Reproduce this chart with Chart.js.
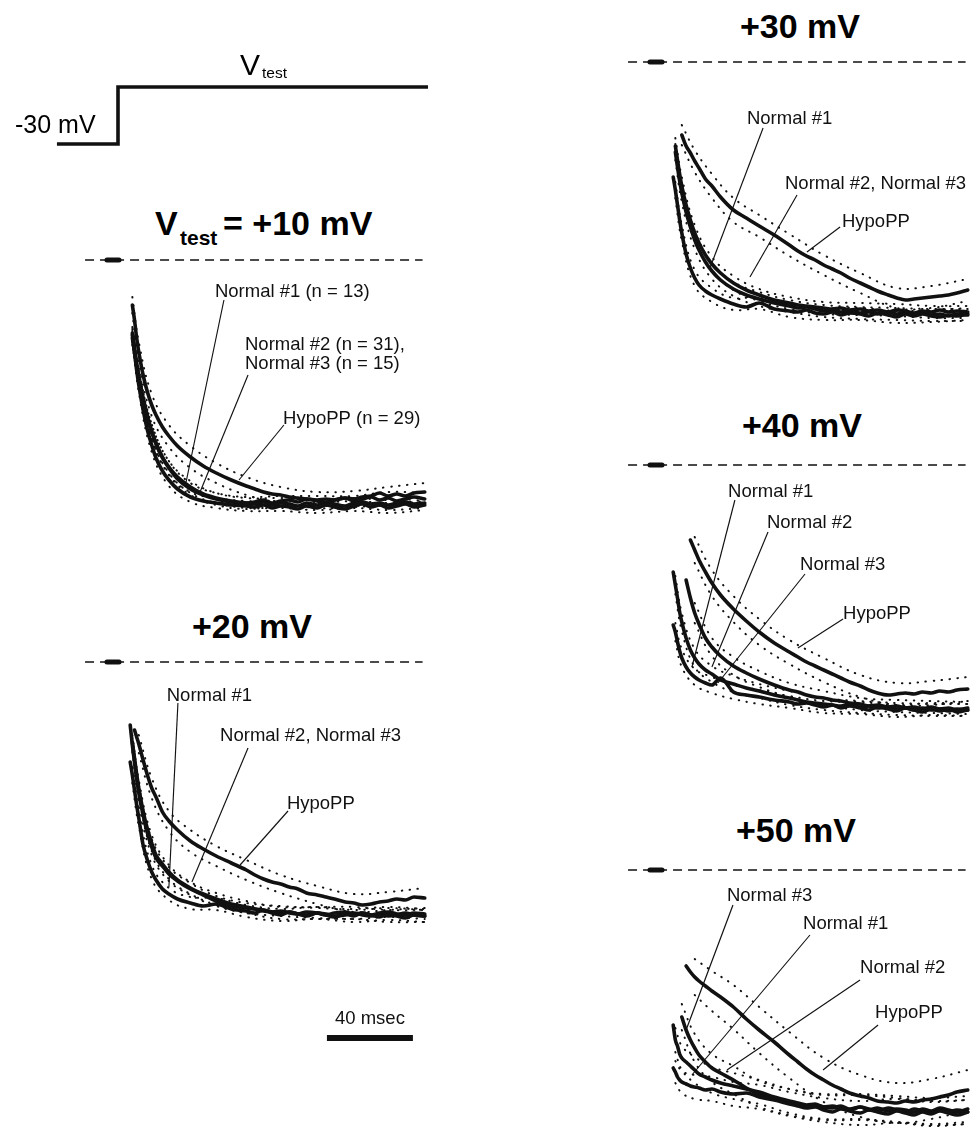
<!DOCTYPE html>
<html>
<head>
<meta charset="utf-8">
<title>Ca current activation, normal vs HypoPP</title>
<script src="https://cdn.jsdelivr.net/npm/chart.js@4.4.1/dist/chart.umd.min.js"></script>
<style>
  html, body { margin: 0; padding: 0; background: #fff; overflow: hidden; }
  body { width: 978px; height: 1133px; position: relative; font-family: "Liberation Sans", Arial, sans-serif; color: #000; }
  canvas { position: absolute; }
  .t { position: absolute; white-space: nowrap; line-height: 1; }
  .title { font-weight: bold; font-size: 34px; }
  .ctr { transform: translateX(-50%); }
</style>
</head>
<body>

<!-- voltage protocol -->
<canvas id="proto"></canvas>
<div class="t" style="left:15px; top:112px; font-size:25px;">-30 mV</div>
<div class="t" style="left:240px; top:50px; font-size:30px;">V</div>
<div class="t" style="left:262px; top:65px; font-size:15.5px;">test</div>

<!-- panel titles -->
<div class="t title" style="left:155px; top:206px;">V</div>
<div class="t" style="left:180px; top:227px; font-size:21px; font-weight:bold;">test</div>
<div class="t title" style="left:223px; top:206px;">= +10 mV</div>
<div class="t title ctr" style="left:252px; top:609px;">+20 mV</div>
<div class="t title ctr" style="left:800px; top:9px;">+30 mV</div>
<div class="t title ctr" style="left:802px; top:408px;">+40 mV</div>
<div class="t title ctr" style="left:796px; top:813px;">+50 mV</div>

<canvas id="p10"></canvas>
<canvas id="p20"></canvas>
<canvas id="p30"></canvas>
<canvas id="p40"></canvas>
<canvas id="p50"></canvas>

<script>
// ---- time grids (ms after the start of the test pulse) ----
const T  = [8,9,10,11,12,14,16,18,20,23,26,30,36,42,48,55,62,66,70,74,78,82,86,90,95,99,103,108,112,116,120,124,128,132,136,140,145];
const TS = [9,12,18,26,36,48,62,78,95,112,128,145];   // times at which ±SEM is shown

// ---- holding / test pulse protocol ----
const protoT = [-28.4, 0, 0, 144.2];
const protoV = [-30, -30, 10, 10];

// zero-current line, capacity-transient artifact, 40 ms scale bar
const baselineT = [-13, 144];
const artifactT = [-2.8, 2.8];
const scaleBarT = [99.5, 139.5];

// ---- mean currents, % of steady-state amplitude (inward = negative) ----
// Vtest = +10 mV
const p10N1   = [null,-30,-36.8,-44,-50,-60,-68,-74,-79.2,-84.4,-88,-91.6,-94.8,-96.4,-97.2,-98,-98.4,-98.8,-98,-99.2,-98.4,-98.8,-99.6,-98.4,-99.2,-98,-98.8,-99.6,-98.4,-97.6,-98.8,-98,-99.2,-98.4,-97.6,-98.8,-98];
const p10N2   = [null,-29.2,-35.2,-41.2,-46.4,-55.2,-62.4,-68.4,-73.2,-78.8,-82.8,-86.8,-90.8,-93.6,-95.2,-96.4,-97.2,-97.6,-96.8,-98,-97.2,-97.6,-98.4,-97.2,-98,-96.8,-97.6,-98.4,-97.2,-96.8,-97.6,-97.2,-98,-97.2,-96.8,-97.6,-97.2];
const p10N3   = [null,-31.2,-36.8,-42.4,-47.2,-56,-63.2,-68.8,-73.6,-79.2,-83.2,-87.6,-91.6,-94,-95.6,-96.8,-97.2,-96.8,-96,-97.2,-96.4,-96,-96.8,-95.6,-96.4,-97.2,-96,-95.2,-96.4,-95.6,-94.8,-96,-95.2,-96.4,-95.6,-94.8,-95.6];
const p10Hypo = [null,-18,-24,-31.2,-36.8,-46,-52.8,-58,-62,-66.8,-70.4,-74.4,-78.8,-82.4,-85.2,-88,-90.4,-91.6,-92.8,-93.6,-94,-94.8,-95.2,-95.6,-96,-95.6,-96,-95.2,-95.6,-94.8,-94.4,-93.2,-94.4,-93.6,-94.4,-93.2,-92.8];
const p10N1Sem   = [2.4,2.8,2.8,2.4,2,2,2,2,2,2,2,2];
const p10N2Sem   = [2.4,2.8,2.8,2.4,2.4,2,2,2,2,2,2,2];
const p10N3Sem   = [2.8,2.8,3.2,2.8,2.4,2.4,2.4,2,2,2,2.4,2.4];
const p10HypoSem = [3.2,4,4.4,4.4,4.4,4,3.6,3.2,3.2,3.2,3.6,3.6];

// +20 mV
const p20N1   = [-40,-45.2,-51.2,-57.2,-62.4,-73.2,-79.2,-84,-87.2,-90.8,-92.8,-94.8,-96.4,-97.6,-96.8,-98.8,-99.6,-100.4,-99.2,-100.4,-101.2,-100,-100.8,-101.6,-100.4,-101.2,-102,-100.8,-101.6,-100.4,-101.2,-102,-100.8,-101.6,-102.4,-101.2,-101.6];
const p20N2   = [-25.2,-33.2,-40,-46.4,-52.4,-61.2,-68.4,-74,-78.4,-81.6,-84.8,-87.6,-90.8,-93.2,-95.6,-97.6,-98.4,-98.8,-99.6,-100,-99.6,-100.4,-100.8,-100,-100.4,-101.2,-100.4,-100,-100.8,-100.4,-101.2,-100.4,-100,-100.8,-101.2,-100.4,-100.8];
const p20N3   = [null,-32,-38.4,-44.8,-50.4,-59.6,-66.8,-72.4,-77.2,-80.8,-84,-87.2,-90.4,-92.8,-94.8,-96.8,-98,-98.8,-99.2,-100,-100.4,-100,-100.8,-101.2,-100.4,-100.8,-101.6,-101.2,-100.4,-101.2,-101.6,-100.8,-101.6,-101.2,-100.4,-101.2,-101.6];
const p20Hypo = [null,null,-27.2,-30,-32.8,-39.2,-45.2,-50.4,-54,-60,-63.6,-67.2,-71.6,-74.8,-77.6,-80.4,-83.2,-85.2,-86.8,-88,-88.8,-90,-90.8,-92.4,-93.2,-94,-94.8,-96,-96.4,-97.2,-96.8,-96,-95.6,-94.8,-95.2,-94,-94.4];
const p20N1Sem   = [3.2,3.2,2.8,2.4,2.4,2.4,2.4,2.4,2.4,2.4,2.4,2.4];
const p20N2Sem   = [2.8,3.2,3.2,2.8,2.4,2,2,2,2,2,2,2];
const p20N3Sem   = [2.8,3.2,3.2,2.8,2.4,2.4,2.4,2.4,2.4,2.4,2.4,2.4];
const p20HypoSem = [3.2,3.6,4,4,4.4,4,4,3.6,3.6,3.6,3.6,4];

// +30 mV
const p30N1   = [-46,-51.2,-57.2,-63.2,-68.4,-76.8,-82.4,-86.4,-89.2,-91.6,-93.2,-94.8,-96.8,-98,-96.4,-98.8,-99.6,-100,-99.2,-100.4,-100.8,-100,-101.2,-100.4,-100.8,-101.6,-100.4,-101.2,-102,-100.8,-101.6,-100.8,-101.6,-102,-101.2,-101.6,-100.8];
const p30N2   = [null,-33.6,-39.2,-44.8,-49.6,-57.2,-63.2,-68.4,-72.4,-77.2,-80.8,-84.4,-88.4,-91.2,-93.2,-95.2,-96.4,-97.2,-97.6,-98,-98.4,-98.8,-98.4,-99.2,-98.8,-99.6,-99.2,-100,-99.2,-99.6,-100.4,-99.6,-100,-99.2,-100,-99.6,-100];
const p30N3   = [null,-36,-42,-47.6,-52.4,-60,-66,-71.2,-75.2,-80,-83.6,-87.2,-90.8,-93.2,-94.8,-96.4,-97.6,-98.4,-98,-98.8,-99.6,-99.2,-100,-99.6,-100.4,-100,-100.8,-100,-100.8,-100.4,-101.2,-100.4,-101.2,-100.8,-101.6,-100.8,-101.2];
const p30Hypo = [null,null,null,null,-29.2,-33.6,-36.4,-39.6,-42.4,-46.8,-49.6,-54,-59.2,-62.4,-65.6,-69.2,-73.2,-75.6,-77.6,-79.2,-81.2,-82.8,-84.4,-86.4,-88.4,-90,-91.6,-93.2,-94.4,-95.2,-94.8,-94.4,-94,-93.6,-93.2,-92.4,-91.2];
const p30N1Sem   = [3.2,3.2,3.2,2.8,2.4,2.4,2.4,2.4,2.4,2.4,2.4,2.4];
const p30N2Sem   = [3.2,3.6,3.2,2.8,2.8,2.4,2.4,2.4,2.4,2.4,2.4,2.4];
const p30N3Sem   = [3.2,3.6,3.6,3.2,2.8,2.8,2.4,2.4,2.4,2.4,2.4,2.4];
const p30HypoSem = [4,4,4.4,4.8,4.8,4.4,4.4,4,4,4,4.4,4.4];

// +40 mV
const p40N1   = [-64,-66.8,-70.8,-74.4,-77.2,-80.8,-83.2,-84.8,-86,-87.2,-88,-85.2,-90.8,-92,-92.8,-94,-94.8,-95.6,-95.2,-96,-96.8,-96,-97.2,-96.4,-97.2,-98,-96.8,-97.6,-98.4,-97.2,-98,-98.8,-97.6,-98.4,-97.6,-98.8,-98];
const p40N2   = [-42.8,-48,-53.2,-58.8,-62.8,-69.2,-74,-77.2,-79.6,-82,-83.6,-86,-87.6,-89.2,-90.4,-92,-93.2,-94,-94.8,-95.2,-95.6,-96,-96.4,-96,-96.8,-96.4,-97.2,-96.8,-97.6,-97.2,-98,-97.2,-98,-97.6,-98.4,-97.6,-98];
const p40N3   = [null,null,null,null,null,-46,-53.2,-59.2,-63.6,-69.2,-72.8,-76.4,-80.4,-83.2,-85.6,-88,-90,-90.8,-92,-92.8,-93.2,-94,-94.4,-95.2,-95.6,-96.4,-96,-96.8,-96.4,-97.2,-96.8,-97.6,-96.8,-97.6,-97.2,-98,-97.2];
const p40Hypo = [null,null,null,null,null,null,-30,-34,-38,-42.8,-47.2,-52,-57.6,-62.4,-66.8,-71.2,-74.8,-76.8,-78.8,-80.4,-82,-83.6,-85.2,-86.8,-88.4,-90,-91.2,-92,-91.6,-91.2,-91.6,-90.8,-91.2,-90.4,-90.8,-90,-89.6];
const p40N1Sem   = [3.6,3.6,3.2,3.2,2.8,2.8,2.4,2.4,2.4,2.4,2.4,2.4];
const p40N2Sem   = [3.6,3.6,3.6,3.2,3.2,2.8,2.8,2.4,2.4,2.4,2.4,2.4];
const p40N3Sem   = [4,4,4,3.6,3.6,3.2,2.8,2.8,2.4,2.4,2.4,2.4];
const p40HypoSem = [4.8,4.8,5.2,5.2,5.2,5.2,4.8,4.8,4.4,4.4,4.8,4.8];

// +50 mV
const p50N1   = [-79.2,-80.8,-82.8,-84,-84.8,-85.6,-86.4,-86.8,-87.2,-88,-87.6,-88.8,-89.6,-89.2,-90.8,-92,-93.6,-94.4,-95.2,-94.8,-96,-96.8,-95.6,-96.4,-97.2,-96,-96.8,-97.6,-96.4,-97.2,-98,-96.8,-97.6,-96.4,-97.2,-98,-96.8];
const p50N2   = [-62,-68,-70.4,-73.6,-75.2,-76.8,-78.4,-80,-81.6,-82.8,-84,-85.2,-86.4,-87.6,-88.8,-90.8,-92.4,-93.2,-94,-93.6,-94.8,-94.4,-95.2,-96,-94.8,-95.6,-96.4,-95.2,-96,-96.8,-95.6,-96.4,-97.2,-96,-96.8,-96,-96.8];
const p50N3   = [null,null,null,null,-58.8,-64,-68,-71.2,-74,-76.8,-79.2,-81.2,-84,-87.2,-89.6,-91.6,-92.8,-93.6,-94.4,-94,-94.8,-95.2,-94.4,-95.6,-94.8,-96,-95.2,-96.4,-95.6,-96,-96.8,-95.6,-96.4,-95.2,-96,-96.8,-95.6];
const p50Hypo = [null,null,null,null,null,-38.4,-40.8,-42.8,-44.4,-46.4,-48.4,-50.8,-54.8,-59.6,-64,-68.8,-74,-76.8,-79.6,-82,-84,-86,-87.6,-89.2,-90.4,-91.2,-92.4,-92.8,-93.2,-92.4,-92.8,-92,-91.6,-90.8,-90,-88.8,-88];
const p50N1Sem   = [4.4,4.4,4.8,4.8,4.8,4.8,4.8,4.8,4.8,4.8,4.8,4.8];
const p50N2Sem   = [4.8,4.8,5.2,5.2,5.2,4.8,4.8,4.8,4.8,4.8,4.8,4.8];
const p50N3Sem   = [5.2,5.2,5.6,5.6,5.6,5.2,5.2,5.2,5.2,5.2,5.2,5.2];
const p50HypoSem = [6,6.4,7.2,8,8.8,9.2,9.2,8.8,8.4,8,8,8];

// ---- layout (canvas boxes; x0/y0 = pixel of t = 0 and of zero current) ----
const PX_PER_MS = 2.15, PX_PER_PCT = 2.5, PX_PER_MV = 1.425;
const layout = {
  proto: { left: 0,   top: 60,  w: 440, h: 100, x0: 118, y0: 101.25, py: PX_PER_MV },
  p10:   { left: 83,  top: 240, w: 350, h: 290, x0: 113, y0: 260, py: PX_PER_PCT },
  p20:   { left: 83,  top: 642, w: 350, h: 410, x0: 113, y0: 662, py: PX_PER_PCT },
  p30:   { left: 626, top: 42,  w: 350, h: 290, x0: 656, y0: 62,  py: PX_PER_PCT },
  p40:   { left: 626, top: 445, w: 350, h: 290, x0: 656, y0: 465, py: PX_PER_PCT },
  p50:   { left: 626, top: 850, w: 350, h: 283, x0: 656, y0: 870, py: PX_PER_PCT }
};

// ---- trace labels and leader lines (data coordinates: ms, %) ----
const notes = {
  p10: {
    labels: [
      { text: 'Normal #1 (n = 13)',  t: 47.4, v: -12.8 },
      { text: 'Normal #2 (n = 31),', t: 61.4, v: -34 },
      { text: 'Normal #3 (n = 15)',  t: 61.4, v: -41.6 },
      { text: 'HypoPP (n = 29)',     t: 79.1, v: -63.6 }
    ],
    leaders: [[51.6, -16, 34, -88.8], [62.8, -46, 40.5, -92.8], [79.5, -66, 58.6, -88]]
  },
  p20: {
    labels: [
      { text: 'Normal #1', t: 25, v: -13.6 },
      { text: 'Normal #2, Normal #3', t: 49.8, v: -29.6 },
      { text: 'HypoPP', t: 80.9, v: -56.8 },
      { text: '40 msec', t: 119.5, v: -142.6, align: 'center' }
    ],
    leaders: [[30.2, -16.4, 26, -90], [62.8, -34.4, 36.7, -88], [81.4, -59.6, 59.1, -81.2]]
  },
  p30: {
    labels: [
      { text: 'Normal #1', t: 42.3, v: -22.8 },
      { text: 'Normal #2, Normal #3', t: 60, v: -48.8 },
      { text: 'HypoPP', t: 86.5, v: -64 }
    ],
    leaders: [[49.8, -26.4, 25.1, -82.4], [65.6, -53.2, 43.7, -86], [85.6, -66, 70.2, -76]]
  },
  p40: {
    labels: [
      { text: 'Normal #1', t: 33.5, v: -10.8 },
      { text: 'Normal #2', t: 51.6, v: -23.2 },
      { text: 'Normal #3', t: 67, v: -40 },
      { text: 'HypoPP', t: 87, v: -59.6 }
    ],
    leaders: [[36.7, -14, 16.7, -80.8], [52.1, -26.8, 26, -80.8], [69.3, -43.6, 28.8, -87.2], [87, -61.6, 66, -73.2]]
  },
  p50: {
    labels: [
      { text: 'Normal #3', t: 33, v: -10.4 },
      { text: 'Normal #1', t: 68.4, v: -21.6 },
      { text: 'Normal #2', t: 94.9, v: -39.2 },
      { text: 'HypoPP', t: 101.9, v: -57.2 }
    ],
    leaders: [[35.8, -14, 14, -64], [71.6, -26, 16.7, -82], [94.9, -44, 33, -80], [103.3, -62, 77.7, -80]]
  }
};

// ---- drawing helpers ----
const INK = '#111';

const annotate = {
  id: 'annotate',
  afterDatasetsDraw(chart, args, opts) {
    const { ctx } = chart, x = chart.scales.x, y = chart.scales.y;
    ctx.save();
    ctx.strokeStyle = INK; ctx.fillStyle = INK; ctx.lineWidth = 1.15;
    (opts.leaders || []).forEach(l => {
      ctx.beginPath();
      ctx.moveTo(x.getPixelForValue(l[0]), y.getPixelForValue(l[1]));
      ctx.lineTo(x.getPixelForValue(l[2]), y.getPixelForValue(l[3]));
      ctx.stroke();
    });
    ctx.font = '18.5px "Liberation Sans", Arial, sans-serif';
    ctx.textBaseline = 'middle';
    (opts.labels || []).forEach(l => {
      ctx.textAlign = l.align || 'left';
      ctx.fillText(l.text, x.getPixelForValue(l.t), y.getPixelForValue(l.v));
    });
    ctx.restore();
  }
};

function pts(ts, vs) {
  return ts.map((t, i) => ({ x: t, y: vs[i] })).filter(p => p.y !== null);
}
function semBound(mean, sem, sign) {
  return TS.map((t, i) => {
    const m = mean[T.indexOf(t)];
    return { x: t, y: m === null ? null : m + sign * sem[i] };
  }).filter(p => p.y !== null);
}
function flat(ts, v) { return ts.map(t => ({ x: t, y: v })); }

function traceSet(mean) {
  return { data: pts(T, mean), borderColor: INK, borderWidth: 3.6, pointRadius: 0,
           cubicInterpolationMode: 'monotone', borderJoinStyle: 'round', borderCapStyle: 'round' };
}
function dotSet(data) {
  return { data, borderColor: INK, borderWidth: 2, borderDash: [0.5, 7.5], borderCapStyle: 'round',
           pointRadius: 0, tension: 0.4 };
}
function baseSets() {
  return [
    { data: flat(baselineT, 0), borderColor: INK, borderWidth: 1.3, borderDash: [9, 6], pointRadius: 0 },
    { data: flat(artifactT, 0), borderColor: INK, borderWidth: 5, borderCapStyle: 'round', pointRadius: 0 }
  ];
}

function build(id, box, datasets, note) {
  const cv = document.getElementById(id);
  cv.width = box.w; cv.height = box.h;
  cv.style.left = box.left + 'px'; cv.style.top = box.top + 'px';
  cv.style.width = box.w + 'px'; cv.style.height = box.h + 'px';
  const xmin = -(box.x0 - box.left) / PX_PER_MS;
  const ymax = (box.y0 - box.top) / box.py;
  return new Chart(cv, {
    type: 'line',
    data: { datasets },
    plugins: [annotate],
    options: {
      responsive: false, animation: false, devicePixelRatio: 1,
      layout: { padding: 0 },
      scales: {
        x: { type: 'linear', min: xmin, max: xmin + box.w / PX_PER_MS, display: false },
        y: { type: 'linear', min: ymax - box.h / box.py, max: ymax, display: false }
      },
      plugins: { legend: { display: false }, tooltip: { enabled: false }, annotate: note || {} },
      elements: { line: { fill: false } }
    }
  });
}

function panel(id, n1, n2, n3, hypo, sems, extra) {
  const sets = baseSets();
  [n1, n2, n3, hypo].forEach((m, k) => {
    sets.push(dotSet(semBound(m, sems[k], +1)));
    sets.push(dotSet(semBound(m, sems[k], -1)));
  });
  [n1, n2, n3, hypo].forEach(m => sets.push(traceSet(m)));
  (extra || []).forEach(s => sets.push(s));
  build(id, layout[id], sets, notes[id]);
}

// protocol
build('proto', layout.proto, [{
  data: pts(protoT, protoV), borderColor: INK, borderWidth: 3.6, pointRadius: 0,
  borderJoinStyle: 'miter', tension: 0
}], {});

panel('p10', p10N1, p10N2, p10N3, p10Hypo, [p10N1Sem, p10N2Sem, p10N3Sem, p10HypoSem]);
panel('p20', p20N1, p20N2, p20N3, p20Hypo, [p20N1Sem, p20N2Sem, p20N3Sem, p20HypoSem], [
  { data: flat(scaleBarT, -150.4), borderColor: INK, borderWidth: 6, pointRadius: 0, borderCapStyle: 'butt' }
]);
panel('p30', p30N1, p30N2, p30N3, p30Hypo, [p30N1Sem, p30N2Sem, p30N3Sem, p30HypoSem]);
panel('p40', p40N1, p40N2, p40N3, p40Hypo, [p40N1Sem, p40N2Sem, p40N3Sem, p40HypoSem]);
panel('p50', p50N1, p50N2, p50N3, p50Hypo, [p50N1Sem, p50N2Sem, p50N3Sem, p50HypoSem]);
</script>
</body>
</html>
